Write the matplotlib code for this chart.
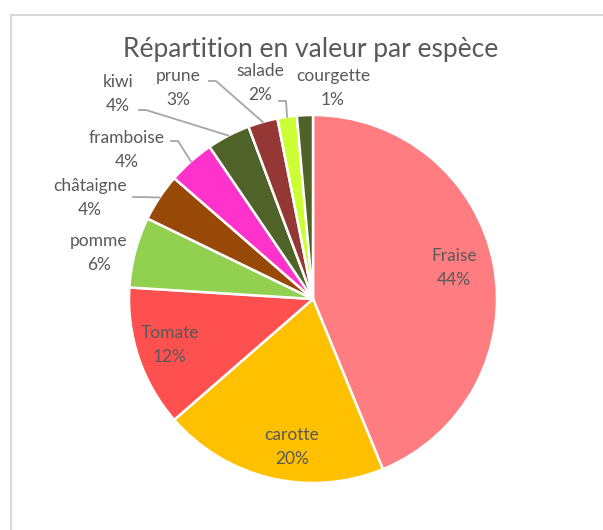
import numpy as np
import matplotlib.pyplot as plt
from matplotlib.patches import Rectangle

# Data
categories = ['Fraise', 'carotte', 'Tomate', 'pomme', 'châtaigne', 'framboise',
              'kiwi', 'prune', 'salade', 'courgette']
values = [43.8, 19.8, 12.4, 6.2, 4.2, 4.1, 3.8, 2.6, 1.7, 1.4]
colors = ['#FF7C80', '#FFC000', '#FF5050', '#92D050', '#984807', '#FF33CC',
          '#4F6228', '#953735', '#CCFF33', '#4F6228']

# label positions (pixel coords, y from top) and leader line start points
label_pos = [(454, 268), (292, 447), (170, 345), (99, 253), (90, 198), (127, 150),
             (118, 94), (178, 88), (260, 83), (333, 88)]
leaders = [None, None, None, None, (133, 197), (171, 141), (139, 110), (209, 81),
           (279, 101), None]

W, H = 603, 530
fig = plt.figure(figsize=(W / 100, H / 100), dpi=100)
ax = fig.add_axes([0, 0, 1, 1])

cx, cy, r = 313, H - 299, 184
wedges, _ = ax.pie(values, colors=colors, startangle=90, counterclock=False,
                   center=(cx, cy), radius=r,
                   wedgeprops=dict(edgecolor='white', linewidth=1.8))
ax.set_xlim(0, W)
ax.set_ylim(0, H)
ax.set_aspect('equal')
ax.axis('off')

# chart frame
ax.add_patch(Rectangle((11, -20), W + 20, H - 15 + 20, fill=False,
                       edgecolor='#D9D9D9', linewidth=1.5, clip_on=False))

ax.text(311, H - 49, 'Répartition en valeur par espèce', ha='center', va='center',
        fontsize=19, color='#595959', family='Lato')

total = sum(values)
for w, name, v, (lx, ly), lead in zip(wedges, categories, values, label_pos, leaders):
    pct = f'{round(v / total * 100):d}%'
    ax.text(lx, H - ly, f'{name}\n{pct}', ha='center', va='center', fontsize=12.5,
            color='#595959', family='Lato', linespacing=1.55)
    if lead is not None:
        ang = np.deg2rad((w.theta1 + w.theta2) / 2)
        ex, ey = cx + r * np.cos(ang), cy + r * np.sin(ang)
        sx, sy = lead[0], H - lead[1]
        ax.plot([sx, sx + 7, ex], [sy, sy, ey], color='#A6A6A6', linewidth=1.3)

fig.savefig('out.png', dpi=100)
